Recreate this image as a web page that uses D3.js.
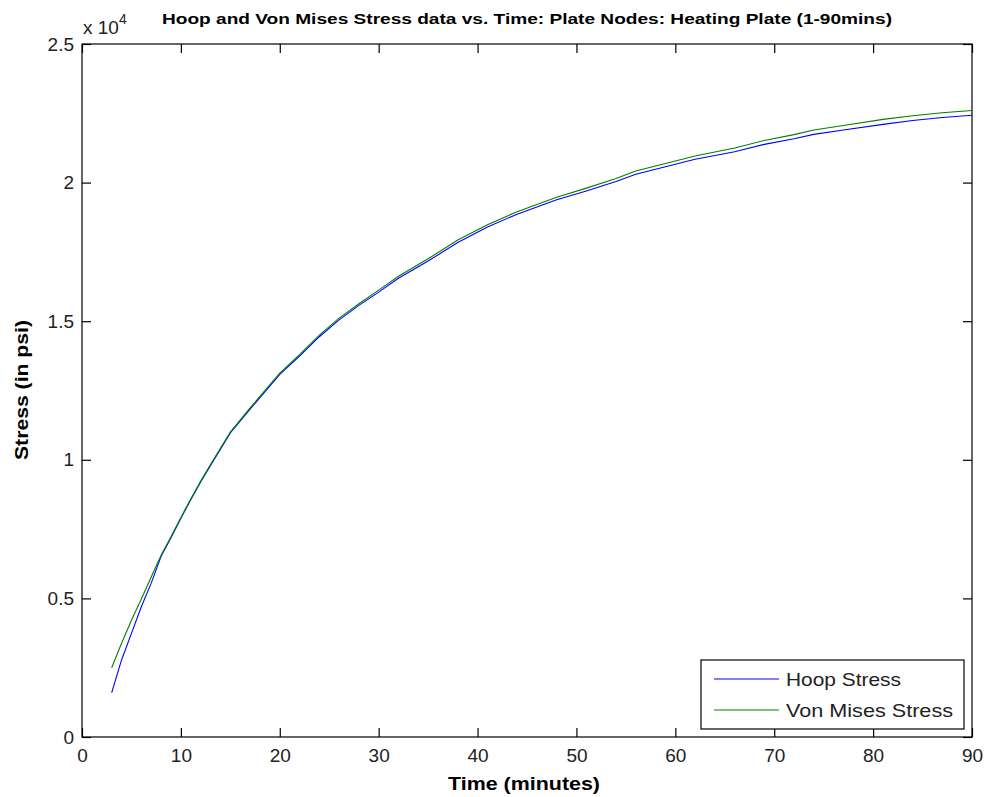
<!DOCTYPE html>
<html><head><meta charset="utf-8">
<script src="https://cdn.jsdelivr.net/npm/d3@7"></script>
<style>body{margin:0;background:#fff}svg{display:block}text{font-family:Arial,"Liberation Sans",sans-serif}</style>
</head><body>
<script>
const times = [3,4,5,6,7,8,9,10,11,12,13,15,17,20,22,24,26,28,30,32,35,38,41,44,48,51,54,56,59,62,66,69,72,74,77,81,84,87,90];
const hoopStress = [1600,2780,3740,4700,5550,6520,7190,7890,8560,9200,9800,10970,11830,13080,13740,14440,15050,15570,16050,16550,17170,17840,18400,18860,19380,19700,20040,20300,20570,20840,21110,21380,21580,21740,21900,22100,22240,22350,22430];
const vonMisesStress = [2500,3380,4210,4980,5770,6560,7220,7920,8590,9230,9830,11000,11870,13130,13790,14500,15110,15630,16120,16620,17250,17930,18480,18950,19470,19800,20150,20420,20690,20960,21250,21520,21730,21900,22060,22280,22410,22520,22600];
const xTicks = [0,10,20,30,40,50,60,70,80,90];
const yTicks = [0,5000,10000,15000,20000,25000];
const yTickLabels = ["0","0.5","1","1.5","2","2.5"];
const seriesNames = ["Hoop Stress","Von Mises Stress"];
const seriesColors = ["#0000ff","#008000"];
const titleText = "Hoop and Von Mises Stress data vs. Time: Plate Nodes: Heating Plate (1-90mins)";

const W = 987, H = 797;
const m = {l:82, r:972, t:44, b:737};
const svg = d3.select("body").append("svg").attr("width",W).attr("height",H);
const x = d3.scaleLinear().domain([0,90]).range([m.l,m.r]);
const y = d3.scaleLinear().domain([0,25000]).range([m.b,m.t]);

// frame
svg.append("rect").attr("x",m.l).attr("y",m.t).attr("width",m.r-m.l).attr("height",m.b-m.t)
  .attr("fill","#fff").attr("stroke","#000").attr("stroke-width",1.2);

const tl = 9;
const axB = svg.append("g").attr("transform",`translate(0,${m.b})`)
  .call(d3.axisBottom(x).tickValues(xTicks).tickSizeInner(-tl).tickSizeOuter(0).tickPadding(12).tickFormat(d3.format("d")));
const axT = svg.append("g").attr("transform",`translate(0,${m.t})`)
  .call(d3.axisTop(x).tickValues(xTicks).tickSizeInner(-tl).tickSizeOuter(0).tickFormat(""));
const axL = svg.append("g").attr("transform",`translate(${m.l},0)`)
  .call(d3.axisLeft(y).tickValues(yTicks).tickSizeInner(-tl).tickSizeOuter(0).tickPadding(8).tickFormat((d,i)=>yTickLabels[i]));
const axR = svg.append("g").attr("transform",`translate(${m.r},0)`)
  .call(d3.axisRight(y).tickValues(yTicks).tickSizeInner(-tl).tickSizeOuter(0).tickFormat(""));
[axB,axT,axL,axR].forEach(a=>{
  a.select(".domain").remove();
  a.selectAll(".tick line").attr("stroke","#000").attr("stroke-width",1.2);
  a.selectAll(".tick text").attr("fill","#222").style("font-size","19px").style("font-family","Arial, 'Liberation Sans', sans-serif");
});

// lines
const series = [hoopStress, vonMisesStress];
const line = d3.line().x((d,i)=>x(times[i])).y(d=>y(d));
series.forEach((s,k)=>{
  svg.append("path").datum(s).attr("d",line).attr("fill","none")
    .attr("stroke",seriesColors[k]).attr("stroke-width",1.1);
});

// exponent label
const ex = svg.append("text").attr("x",83).attr("y",34).attr("fill","#222").style("font-size","19px");
ex.append("tspan").text("x 10");
ex.append("tspan").attr("dy",-10).style("font-size","14px").text("4");

// title
svg.append("text").attr("x",527).attr("y",24).attr("text-anchor","middle")
  .style("font-size","14px").style("font-weight","bold").attr("fill","#000")
  .attr("textLength",730).attr("lengthAdjust","spacingAndGlyphs").text(titleText);

// axis labels
svg.append("text").attr("x",524).attr("y",790).attr("text-anchor","middle")
  .style("font-size","18px").style("font-weight","bold")
  .attr("textLength",152).attr("lengthAdjust","spacingAndGlyphs").text("Time (minutes)");
svg.append("text").attr("transform","translate(28,390) rotate(-90)").attr("text-anchor","middle")
  .style("font-size","18px").style("font-weight","bold")
  .attr("textLength",140).attr("lengthAdjust","spacingAndGlyphs").text("Stress (in psi)");

// legend
const lg = svg.append("g");
lg.append("rect").attr("x",701).attr("y",660).attr("width",263).attr("height",69)
  .attr("fill","#fff").attr("stroke","#000").attr("stroke-width",1.2);
const legendWidths = [115,167];
seriesNames.forEach((n,k)=>{
  const yy = 679 + k*31;
  lg.append("line").attr("x1",714).attr("x2",779).attr("y1",yy).attr("y2",yy)
    .attr("stroke",seriesColors[k]).attr("stroke-width",1.1);
  lg.append("text").attr("x",786).attr("y",yy+7).style("font-size","19px").attr("fill","#222")
    .attr("textLength",legendWidths[k]).attr("lengthAdjust","spacingAndGlyphs").text(n);
});
</script>
</body></html>
